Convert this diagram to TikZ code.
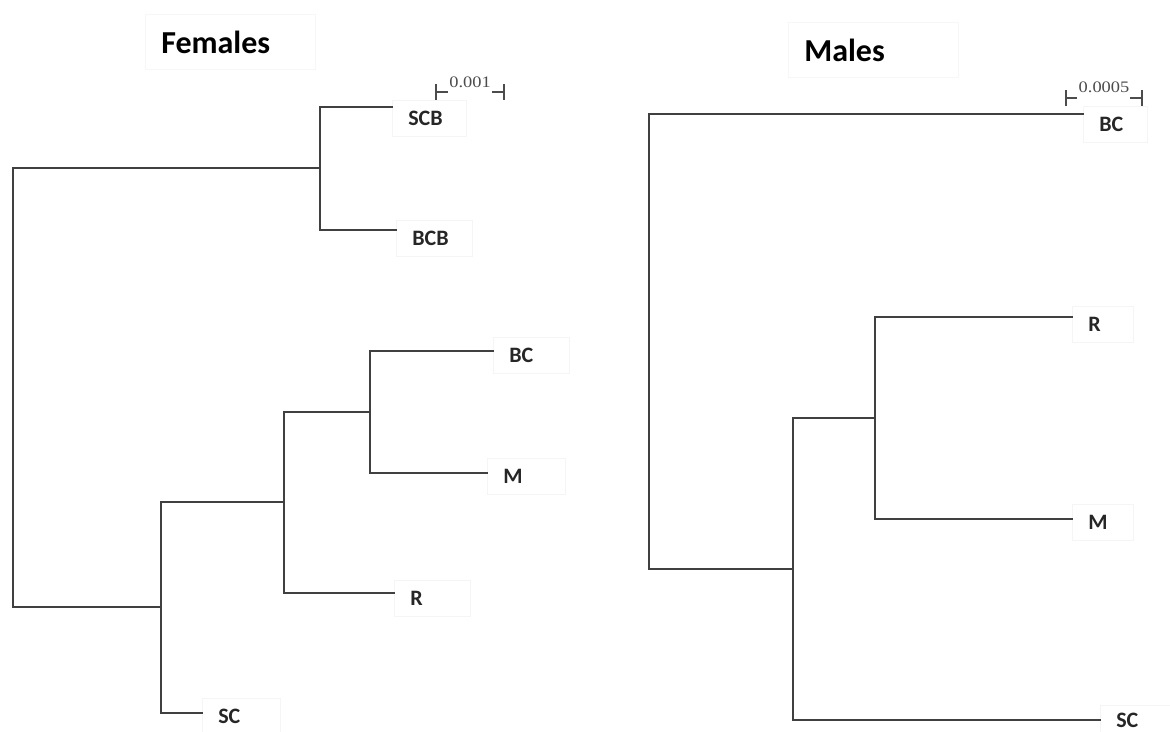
\documentclass[tikz,border=0pt]{standalone}
\usepackage{fontspec}
\usepackage{graphicx}
\setmainfont{Carlito}
\newfontfamily\scalefont{Liberation Serif}
\begin{document}
\begin{tikzpicture}[x=1pt,y=-1pt,
  branch/.style={draw=black!75, line width=1.5pt, line cap=rect},
  leaf/.style={draw=black!4, line width=0.6pt, anchor=west, inner xsep=16pt, inner ysep=0pt,
    minimum height=36pt, text width=#1, align=left,
    font=\bfseries\fontsize{22}{22}\selectfont, text=black!85},
  leaf/.default=44pt,
  ttl/.style={draw=black!3, line width=0.6pt, anchor=west, inner xsep=16pt, inner ysep=0pt,
    minimum height=55pt, text width=138pt, align=left,
    font=\bfseries\fontsize{32}{32}\selectfont, text=black},
  sbar/.style={draw=black!70, line width=1.2pt},
  stext/.style={inner sep=0pt, font=\scalefont\fontsize{16}{16}\selectfont, text=black!70}]
\useasboundingbox (0,0) rectangle (1170,731);

% ---------------- Females ----------------
\node[ttl] (tf) at (145,42) {Females};

\coordinate (f0) at (13,387);
\coordinate (f1) at (320,168);
\coordinate (f2) at (161,607);
\coordinate (f3) at (284,502);
\coordinate (f4) at (370,412);

\node[leaf=42pt] (scb) at (392,118) {SCB};
\node[leaf=44pt] (bcb) at (396,238) {BCB};
\node[leaf=44pt] (bcf) at (493,355) {BC};
\node[leaf=46pt] (mf)  at (487,476) {M};
\node[leaf=44pt] (rf)  at (394,598) {R};
\node[leaf=46pt] (scf) at (202,716) {SC};

\draw[branch] (f0) |- (f1);
\draw[branch] (f0) |- (f2);
\draw[branch] (f1) |- ([yshift=11pt]scb.west);
\draw[branch] (f1) |- ([yshift=8pt]bcb.west);
\draw[branch] (f2) |- (f3);
\draw[branch] (f2) |- ([yshift=3pt]scf.west);
\draw[branch] (f3) |- (f4);
\draw[branch] (f3) |- ([yshift=5pt]rf.west);
\draw[branch] (f4) |- ([yshift=4pt]bcf.west);
\draw[branch] (f4) |- ([yshift=3pt]mf.west);

% scale bar females
\coordinate (sf1) at (436,92);
\coordinate (sf2) at (504,92);
\node[stext] (sft) at (470,82) {\scalebox{1.15}[1]{0.001}};
\coordinate (sf1e) at (448,92);
\coordinate (sf2e) at (492,92);
\draw[sbar] ([yshift=8pt]sf1) -- ([yshift=-8pt]sf1);
\draw[sbar] ([yshift=8pt]sf2) -- ([yshift=-8pt]sf2);
\draw[sbar] (sf1) -- (sf1e);
\draw[sbar] (sf2e) -- (sf2);

% ---------------- Males ----------------
\node[ttl] (tm) at (788,50) {Males};

\coordinate (m0) at (649,342);
\coordinate (m1) at (793,569);
\coordinate (m2) at (875,418);

\node[leaf=32pt] (bcm) at (1083,124) {BC};
\node[leaf=29pt] (rm)  at (1072,324) {R};
\node[leaf=29pt] (mm)  at (1072,522) {M};
\node[leaf=40pt, minimum height=30pt] (scm) at (1100,720) {SC};

\draw[branch] (m0) |- ([yshift=10pt]bcm.west);
\draw[branch] (m0) |- (m1);
\draw[branch] (m1) |- (m2);
\draw[branch] (m1) |- (scm.west);
\draw[branch] (m2) |- ([yshift=7pt]rm.west);
\draw[branch] (m2) |- ([yshift=3pt]mm.west);

% scale bar males
\coordinate (sm1) at (1066,98);
\coordinate (sm2) at (1142,98);
\node[stext] (smt) at (1104,87) {\scalebox{1.15}[1]{0.0005}};
\coordinate (sm1e) at (1077,98);
\coordinate (sm2e) at (1130,98);
\draw[sbar] ([yshift=8pt]sm1) -- ([yshift=-8pt]sm1);
\draw[sbar] ([yshift=8pt]sm2) -- ([yshift=-8pt]sm2);
\draw[sbar] (sm1) -- (sm1e);
\draw[sbar] (sm2e) -- (sm2);
\end{tikzpicture}
\end{document}
